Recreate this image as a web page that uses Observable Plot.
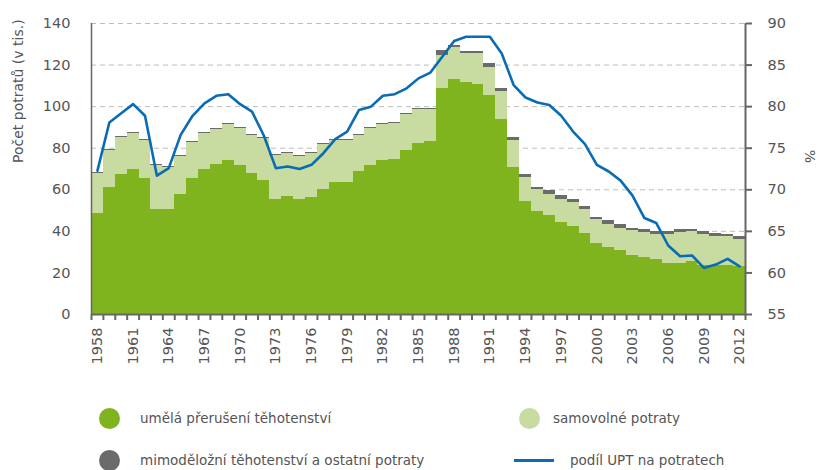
<!DOCTYPE html>
<html>
<head>
<meta charset="utf-8">
<script src="https://cdn.jsdelivr.net/npm/d3@7"></script>
<script src="https://cdn.jsdelivr.net/npm/@observablehq/plot@0.6"></script>
<style>
  html, body { margin: 0; padding: 0; background: #fff; }
  #wrap { position: relative; width: 820px; height: 470px; font-family: "DejaVu Sans", sans-serif; color: #555; }
  #legend { position: absolute; left: 0; top: 390px; width: 820px; height: 80px; font-size: 13.5px; }
  .item { position: absolute; display: flex; align-items: center; height: 24px; }
  .dot { width: 21px; height: 21px; border-radius: 50%; }
  .lin { width: 40px; height: 3px; }
</style>
</head>
<body>
<div id="wrap">
  <div id="chart"></div>
  <div id="legend"></div>
</div>
<script>
const years = d3.range(1958, 2013);
// umělá přerušení těhotenství (tis.)
const upt = [48.6,61.2,67.4,69.6,65.5,50.7,50.7,57.8,65.3,69.6,72.2,74.0,71.6,68.0,64.7,55.3,56.9,55.3,56.1,60.3,
  63.7,63.7,68.8,71.6,74.0,74.8,79.0,82.4,83.4,108.9,113.1,111.5,110.6,105.6,93.6,70.8,54.2,49.6,47.5,44.3,
  42.3,39.1,34.1,32.2,30.6,28.6,27.4,26.4,24.5,24.5,25.3,23.8,23.8,23.8,23.0];
// samovolné potraty (tis.)
const spont = [19.0,17.5,17.9,17.6,18.0,21.2,20.2,18.1,17.6,17.4,16.6,17.2,18.0,18.1,19.8,21.3,20.7,20.6,21.5,21.6,
  19.9,19.9,17.3,18.0,17.2,17.2,17.4,16.4,15.4,15.5,15.3,14.3,15.0,13.4,13.8,12.9,11.5,10.3,10.4,11.2,
  11.4,11.3,11.6,11.3,10.9,11.9,12.2,12.0,14.1,15.0,14.4,14.8,13.7,13.5,13.3];
// mimoděložní těhotenství a ostatní potraty (tis.)
const other = [0.5,0.5,0.5,0.5,0.5,0.5,0.5,0.5,0.5,0.5,0.5,0.5,0.5,0.5,0.5,0.5,0.5,0.5,0.5,0.5,
  0.5,0.5,0.5,0.5,0.5,0.5,0.5,0.5,0.5,2.4,0.8,0.8,1.0,1.8,1.5,1.6,1.6,1.3,1.6,1.6,
  1.5,1.6,1.0,1.6,1.6,1.0,1.1,1.5,1.3,1.2,1.0,1.3,1.4,1.0,1.0];
// podíl UPT na potratech (%)
const share = [72.3,78.1,79.2,80.3,78.9,71.7,72.6,76.6,78.9,80.4,81.3,81.5,80.3,79.4,76.5,72.6,72.8,72.5,73.0,74.4,
  76.1,77.0,79.6,80.0,81.3,81.5,82.2,83.4,84.1,86.0,87.9,88.4,88.4,88.4,86.4,82.6,81.1,80.5,80.2,78.9,
  77.0,75.5,73.0,72.2,71.1,69.3,66.6,66.0,63.3,62.0,62.1,60.6,61.0,61.7,60.8];

const seriesNames = ["umělá přerušení těhotenství", "samovolné potraty", "mimoděložní těhotenství a ostatní potraty"];
const seriesColors = ["#80b41f", "#c8dba0", "#6b6b6b"];
const lineName = "podíl UPT na potratech";
const lineColor = "#0a6cb4";
const leftTicks = [0, 20, 40, 60, 80, 100, 120, 140];
const gridTicks = [20, 40, 60, 80, 100, 120, 140];
const labelYears = d3.range(1958, 2013, 3);

// stacked rects
const rects = [];
years.forEach((yr, i) => {
  const vals = [upt[i], spont[i], other[i]];
  let base = 0;
  vals.forEach((v, k) => {
    rects.push({year: yr, s: seriesNames[k], y1: base, y2: base + v});
    base += v;
  });
});
const lineData = years.map((yr, i) => ({year: yr, pct: share[i]}));
const toLeft = p => (p - 55) * 4; // right axis 55–90 % mapped onto 0–140
const bounds = years.map(y => y - 0.5).concat([2012.5]);

const chart = Plot.plot({
  width: 820,
  height: 390,
  marginLeft: 91,
  marginRight: 75,
  marginTop: 23,
  marginBottom: 76,
  style: {fontFamily: "DejaVu Sans, sans-serif", fontSize: "14.5px", color: "#555", background: "#fff"},
  x: {domain: [1957.5, 2012.5]},
  y: {domain: [0, 140]},
  color: {domain: seriesNames, range: seriesColors},
  marks: [
    Plot.ruleY(gridTicks, {stroke: "#bdbdbd", strokeDasharray: "5,4", strokeWidth: 1}),
    Plot.rect(rects, {x1: d => d.year - 0.5, x2: d => d.year + 0.5, y1: "y1", y2: "y2", fill: "s", shapeRendering: "crispEdges"}),
    Plot.line(lineData, {x: "year", y: d => toLeft(d.pct), stroke: lineColor, strokeWidth: 2.6, strokeLinejoin: "round"}),
    Plot.ruleX([1957.5], {stroke: "#666", strokeWidth: 1.5}),
    Plot.ruleX([2012.5], {stroke: "#666", strokeWidth: 2}),
    Plot.ruleY([0], {stroke: "#666", strokeWidth: 2}),
    Plot.axisY(leftTicks, {anchor: "left", tickSize: 0, tickPadding: 21, label: null, fill: "#555"}),
    Plot.axisY(leftTicks, {anchor: "right", tickSize: 6, tickPadding: 16, label: null, stroke: "#666", strokeWidth: 2, fill: "#555", tickFormat: d => String(d / 4 + 55)}),
    Plot.axisX(bounds, {anchor: "bottom", tickSize: 6, tickFormat: () => "", label: null, stroke: "#666", strokeWidth: 2}),
    Plot.axisX(labelYears, {anchor: "bottom", tickSize: 0, tickPadding: 13, tickRotate: -90, label: null, fill: "#555", tickFormat: d => String(d)}),
    Plot.text(["Počet potratů (v tis.)"], {text: d => d, frameAnchor: "left", dx: -73, dy: -6, rotate: -90, fill: "#555", fontSize: 14}),
    Plot.text(["%"], {text: d => d, frameAnchor: "right", dx: 64, dy: -6, rotate: 90, fill: "#555", fontSize: 14})
  ]
});
document.getElementById("chart").appendChild(chart);

// legend below the SVG
const legend = document.getElementById("legend");
const items = [
  {type: "dot", color: seriesColors[0], text: seriesNames[0], x: 99, y: 16, tx: 140},
  {type: "dot", color: seriesColors[1], text: seriesNames[1], x: 519, y: 16, tx: 553},
  {type: "dot", color: seriesColors[2], text: seriesNames[2], x: 99, y: 58, tx: 140},
  {type: "lin", color: lineColor, text: lineName, x: 514, y: 58, tx: 570}
];
items.forEach(it => {
  const sym = document.createElement("div");
  sym.className = "item";
  sym.style.left = it.x + "px";
  sym.style.top = it.y + "px";
  const s = document.createElement("div");
  s.className = it.type;
  s.style.background = it.color;
  sym.appendChild(s);
  legend.appendChild(sym);
  const t = document.createElement("div");
  t.className = "item";
  t.style.left = it.tx + "px";
  t.style.top = it.y + "px";
  t.textContent = it.text;
  legend.appendChild(t);
});
</script>
</body>
</html>
